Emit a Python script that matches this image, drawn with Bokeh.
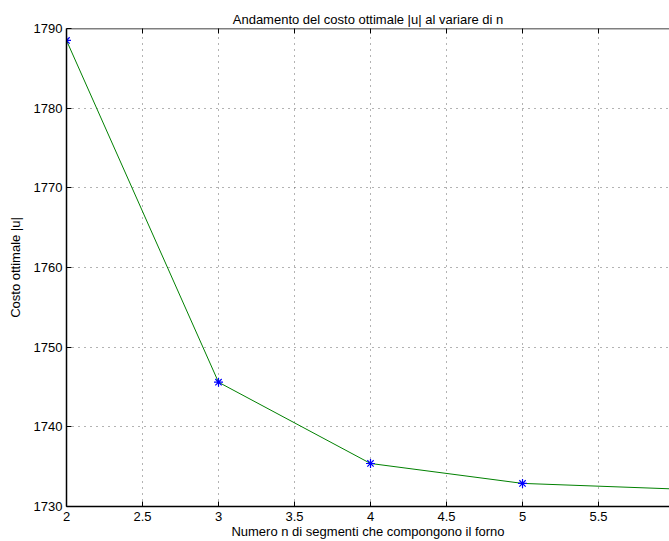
import math
from bokeh.plotting import figure
from bokeh.models import Range1d, FixedTicker, LinearAxis, NumeralTickFormatter, Title, Span
from bokeh.embed import file_html
from bokeh.resources import INLINE

n_values = [2, 3, 4, 5, 6]
costs = [1788.5, 1745.6, 1735.4, 1732.9, 1732.2]
x_ticks = [2, 2.5, 3, 3.5, 4, 4.5, 5, 5.5]
y_ticks = [1730, 1740, 1750, 1760, 1770, 1780, 1790]
y_top = 1790

FONT = "Liberation Sans"
FS = "13px"

p = figure(width=669, height=541, output_backend="svg", toolbar_location=None,
           x_range=Range1d(2, 5.967), y_range=Range1d(1730, 1790),
           min_border_left=66, min_border_right=0, min_border_top=28,
           min_border_bottom=34, x_axis_location=None, y_axis_location=None)
p.outline_line_color = None
p.background_fill_color = "white"
p.border_fill_color = "white"

title = Title(text="Andamento del costo ottimale |u| al variare di n", align="center",
              text_font=FONT, text_font_size=FS, text_font_style="normal",
              text_color="black", standoff=4)
p.add_layout(title, "above")

def style_axis(ax):
    ax.axis_line_color = "black"
    ax.axis_line_width = 1.5
    ax.major_tick_in = 5
    ax.major_tick_out = 0
    ax.minor_tick_in = 0
    ax.minor_tick_out = 0
    ax.major_tick_line_color = "black"
    ax.major_label_text_font = FONT
    ax.major_label_text_font_size = FS
    ax.major_label_text_color = "black"
    ax.axis_label_text_font = FONT
    ax.axis_label_text_font_size = FS
    ax.axis_label_text_font_style = "normal"
    ax.axis_label_text_color = "black"

xb = LinearAxis(ticker=FixedTicker(ticks=x_ticks), formatter=NumeralTickFormatter(format="0.[0]"),
                axis_label="Numero n di segmenti che compongono il forno")
style_axis(xb)
xb.major_label_standoff = 5
xb.axis_label_standoff = 0
p.add_layout(xb, "below")

yl = LinearAxis(ticker=FixedTicker(ticks=y_ticks), axis_label="Costo ottimale |u|")
style_axis(yl)
yl.major_label_standoff = 4
yl.axis_label_standoff = 8
p.add_layout(yl, "left")

# top border of the box with inward ticks
p.add_layout(Span(location=y_top, dimension="width", line_color="black", line_width=1.5))
p.scatter(x_ticks, [y_top] * len(x_ticks), marker="dash", angle=math.pi / 2, size=10,
          line_color="black", line_width=1)

p.xgrid.ticker = FixedTicker(ticks=x_ticks)
p.ygrid.ticker = FixedTicker(ticks=y_ticks)
for g in (p.xgrid, p.ygrid):
    g.grid_line_color = "#666666"
    g.grid_line_dash = "1 5"
    g.grid_line_width = 1

p.line(n_values, costs, line_color="#008000", line_width=1)
p.scatter(n_values, costs, marker="asterisk", size=9, line_color="#0000ff", line_width=1.2)

open("out.html", "w").write(file_html(p, INLINE))
